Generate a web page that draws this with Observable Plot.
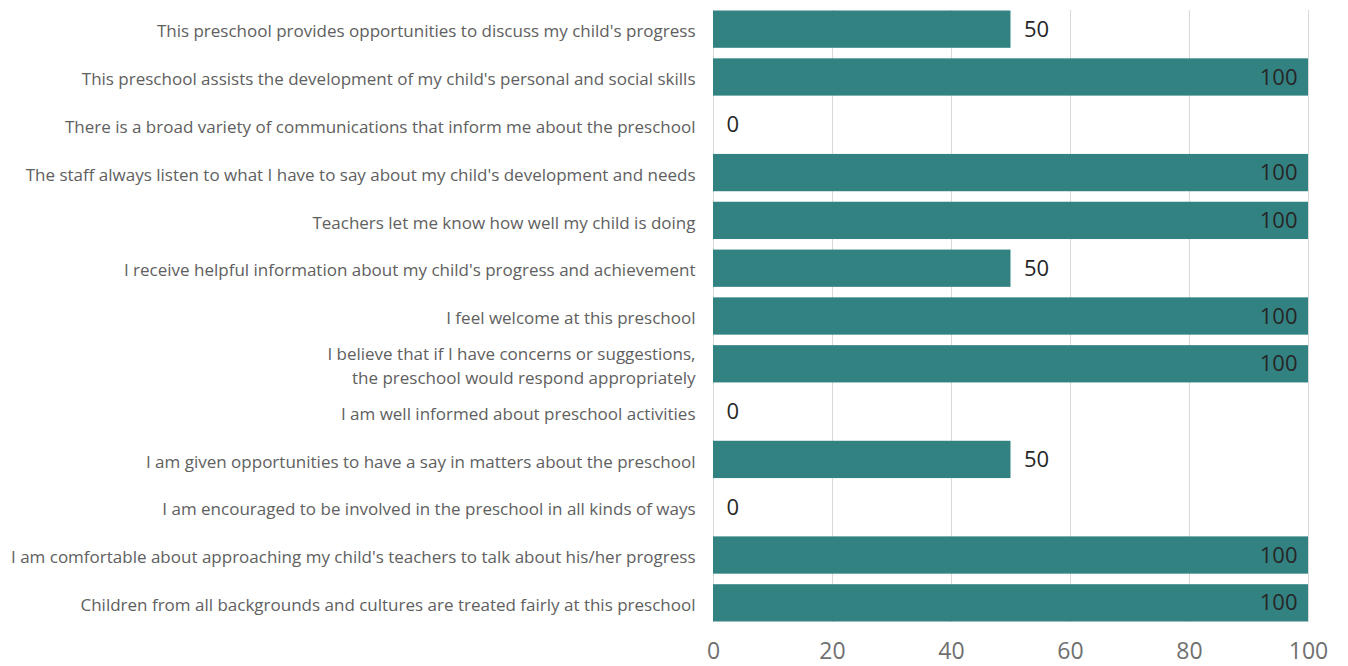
<!DOCTYPE html>
<html>
<head>
<meta charset="utf-8">
<script src="https://cdn.jsdelivr.net/npm/d3@7"></script>
<script src="https://cdn.jsdelivr.net/npm/@observablehq/plot@0.6"></script>
<style>
  html, body { margin: 0; padding: 0; background: #fff; }
  #chart svg { display: block; }
</style>
</head>
<body>
<div id="chart"></div>
<script>
const categories = [
  "This preschool provides opportunities to discuss my child's progress",
  "This preschool assists the development of my child's personal and social skills",
  "There is a broad variety of communications that inform me about the preschool",
  "The staff always listen to what I have to say about my child's development and needs",
  "Teachers let me know how well my child is doing",
  "I receive helpful information about my child's progress and achievement",
  "I feel welcome at this preschool",
  "I believe that if I have concerns or suggestions,\nthe preschool would respond appropriately",
  "I am well informed about preschool activities",
  "I am given opportunities to have a say in matters about the preschool",
  "I am encouraged to be involved in the preschool in all kinds of ways",
  "I am comfortable about approaching my child's teachers to talk about his/her progress",
  "Children from all backgrounds and cultures are treated fairly at this preschool"
];
const values = [50, 100, 0, 100, 100, 50, 100, 100, 0, 50, 0, 100, 100];
const xTicks = [0, 20, 40, 60, 80, 100];

const data = categories.map((c, i) => ({category: c, value: values[i]}));

const chart = Plot.plot({
  width: 1348,
  height: 666,
  marginLeft: 713,
  marginRight: 40,
  marginTop: 0,
  marginBottom: 34,
  style: {fontFamily: "'Open Sans', sans-serif", background: "#fff"},
  x: {domain: [0, 100], ticks: xTicks, label: null},
  y: {domain: categories, padding: 0.22, round: false, label: null},
  marks: [
    Plot.ruleX(xTicks, {stroke: "#d9d9d9", strokeWidth: 1, insetTop: 10, insetBottom: 10}),
    Plot.barX(data, {x: "value", y: "category", fill: "#338282"}),
    Plot.axisX({ticks: xTicks, tickSize: 0, tickPadding: 10, fontSize: 23, color: "#707070", label: null}),
    Plot.axisY({tickSize: 0, tickPadding: 18, fontSize: 17, color: "#606060", label: null, lineHeight: 1.4}),
    Plot.text(data.filter(d => d.value >= 100), {x: "value", y: "category", text: d => String(d.value), textAnchor: "end", dx: -11, fontSize: 22, fill: "#262626"}),
    Plot.text(data.filter(d => d.value < 100), {x: "value", y: "category", text: d => String(d.value), textAnchor: "start", dx: 13, fontSize: 22, fill: "#262626"})
  ]
});
document.getElementById("chart").appendChild(chart);
</script>
</body>
</html>
